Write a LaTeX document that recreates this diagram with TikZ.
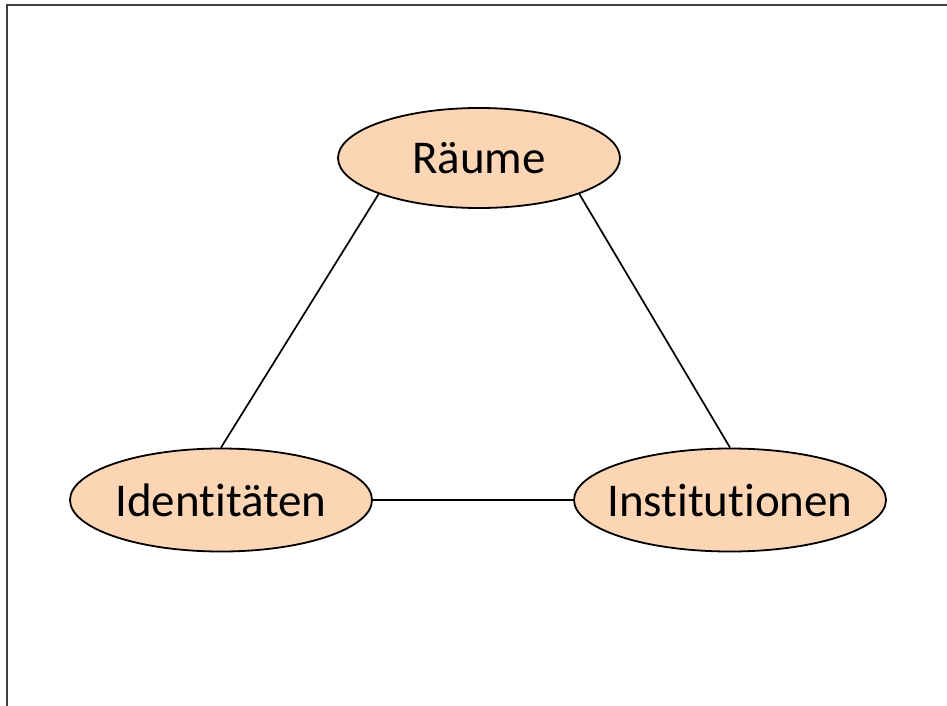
\documentclass[tikz,border=0pt]{standalone}
\usepackage{fontspec}
\setmainfont[Ligatures=NoCommon]{Carlito}
\usetikzlibrary{shapes.geometric}
\definecolor{peach}{HTML}{FCD5B5}
\begin{document}
\begin{tikzpicture}[
			x=0.5pt, y=-0.5pt,
			topic/.style={ellipse,draw,fill=peach,line width=0.9pt,inner xsep=-8pt,inner ysep=0pt,
					font=\fontsize{23.5}{28}\selectfont},
			link/.style={line width=0.85pt}
		]
		\useasboundingbox (0,0) rectangle (947,706);
		\draw[line width=1pt,black!75] (7,706) -- (7,5) -- (947,5);
		\node[topic,minimum width=141pt,minimum height=50pt] (raeume) at (479,158) {Räume};
		\node[topic,minimum width=151pt,minimum height=51.5pt] (ident) at (221,500) {Identitäten};
		\node[topic,minimum width=156pt,minimum height=51.5pt] (inst) at (730,500) {Institutionen};
		\draw[link] (raeume.south west) -- (ident.north);
		\draw[link] (raeume.south east) -- (inst.north);
		\draw[link] (ident.east) -- (inst.west);
	\end{tikzpicture}
\end{document}
